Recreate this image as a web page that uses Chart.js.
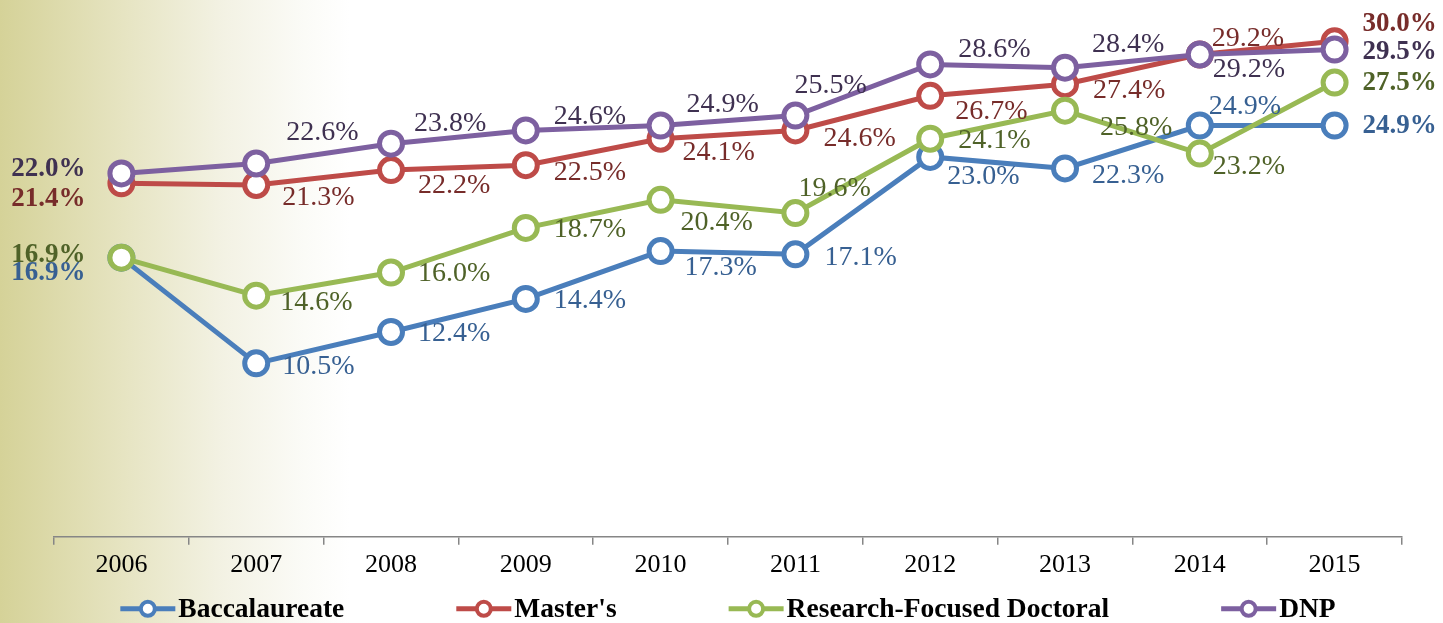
<!DOCTYPE html>
<html>
<head>
<meta charset="utf-8">
<script src="https://cdn.jsdelivr.net/npm/chart.js@4"></script>
<style>
html, body { margin:0; padding:0; }
body {
    width:1443px; height:623px; overflow:hidden;
    background: linear-gradient(to right, #d5d298 0px, #e7e5c4 130px, #f3f2e4 225px, #fbfbf7 305px, #ffffff 350px);
}
#wrap { position:relative; width:1443px; height:623px; }
</style>
</head>
<body>
<div id="wrap"><canvas id="chart"></canvas></div>
<script>
// ===== DATA =====
const years = ["2006","2007","2008","2009","2010","2011","2012","2013","2014","2015"];
const baccalaureate = [16.9, 10.5, 12.4, 14.4, 17.3, 17.1, 23.0, 22.3, 24.9, 24.9];
const masters       = [21.4, 21.3, 22.2, 22.5, 24.1, 24.6, 26.7, 27.4, 29.2, 30.0];
const researchDoc   = [16.9, 14.6, 16.0, 18.7, 20.4, 19.6, 24.1, 25.8, 23.2, 27.5];
const dnp           = [22.0, 22.6, 23.8, 24.6, 24.9, 25.5, 28.6, 28.4, 29.2, 29.5];

// label nudges (dx, dy) from each point, px
const bacOffsets = [[-36,15],[26,3],[27,2],[28,2],[24,17],[29,3],[17,20],[27,7],[9,-19],[28,1]];
const masOffsets = [[-36,16],[26,13],[27,16],[28,7],[22,14],[28,8],[25,16],[28,6],[12,-16],[28,-17]];
const resOffsets = [[-36,-3],[24,7],[27,1],[28,2],[20,23],[3,-24],[28,2],[35,17],[13,13],[28,0]];
const dnpOffsets = [[-36,-4],[30,-31],[23,-20],[28,-14],[26,-21],[-1,-30],[28,-15],[27,-23],[13,15],[28,2]];

const SERIF = '"Liberation Serif", "Times New Roman", serif';

function series(label, data, color, textColor, offsets, order){
    return {
        label, data, order,
        borderColor: color,
        backgroundColor: "#ffffff",
        borderWidth: 5,
        pointRadius: 11.5,
        pointHoverRadius: 11.5,
        pointBorderWidth: 5,
        pointBackgroundColor: "#ffffff",
        pointBorderColor: color,
        tension: 0,
        textColor, offsets
    };
}

// ===== VALUE LABELS =====
const valueLabels = {
    id: "valueLabels",
    afterDatasetsDraw(chart){
        const ctx = chart.ctx;
        ctx.save();
        ctx.textBaseline = "middle";
        chart.data.datasets.forEach((ds,di)=>{
            const meta = chart.getDatasetMeta(di);
            meta.data.forEach((pt,i)=>{
                const [dx,dy] = ds.offsets[i];
                const end = (i===0 || i===ds.data.length-1);
                ctx.font = (end ? "bold 27px " : "28px ") + SERIF;
                ctx.textAlign = i===0 ? "right" : "left";
                ctx.fillStyle = ds.textColor;
                ctx.fillText(ds.data[i].toFixed(1)+"%", pt.x+dx, pt.y+dy);
            });
        });
        ctx.restore();
    }
};

// ===== LEGEND =====
const bottomLegend = {
    id: "bottomLegend",
    afterDraw(chart){
        const ctx = chart.ctx;
        const y = chart.chartArea.bottom + 72;
        const gap = 112;
        ctx.save();
        ctx.font = "bold 27.5px " + SERIF;
        const items = chart.data.datasets.map(ds=>({ds, w: 58 + ctx.measureText(ds.label).width}));
        const total = items.reduce((s,it)=>s+it.w,0) + gap*(items.length-1);
        let x = (chart.chartArea.left + chart.chartArea.right)/2 - total/2;
        items.forEach(it=>{
            ctx.strokeStyle = it.ds.borderColor;
            ctx.lineWidth = 5;
            ctx.beginPath(); ctx.moveTo(x,y); ctx.lineTo(x+55,y); ctx.stroke();
            ctx.beginPath(); ctx.arc(x+27.5,y,7,0,Math.PI*2);
            ctx.fillStyle = "#fff"; ctx.fill();
            ctx.lineWidth = 4; ctx.stroke();
            ctx.fillStyle = "#000";
            ctx.textAlign = "left"; ctx.textBaseline = "middle";
            ctx.fillText(it.ds.label, x+58, y+1);
            x += it.w + gap;
        });
        ctx.restore();
    }
};

// ===== CHART =====
const chart = new Chart(document.getElementById("chart").getContext("2d"), {
    type: "line",
    data: {
        labels: years,
        datasets: [
            series("Baccalaureate", baccalaureate, "#4a7ebb", "#376092", bacOffsets, 3),
            series("Master's", masters, "#be4b48", "#772c2a", masOffsets, 2),
            series("Research-Focused Doctoral", researchDoc, "#98b954", "#4f6228", resOffsets, 1),
            series("DNP", dnp, "#7d60a0", "#3f3151", dnpOffsets, 0)
        ]
    },
    options: {
        responsive: true,
        maintainAspectRatio: false,
        animation: false,
        layout: { padding: { left:54, right:41, top:3, bottom:37 } },
        plugins: { legend: { display:false }, tooltip: { enabled:false } },
        scales: {
            x: {
                offset: true,
                grid: { offset:true, drawOnChartArea:false, tickLength:8, color:"#868686", lineWidth:1.5 },
                border: { color:"#868686", width:1.5 },
                ticks: { color:"#000", padding:5, font:{ family:SERIF, size:26 } }
            },
            y: { display:false, min:0, max:31.5 }
        }
    },
    plugins: [valueLabels, bottomLegend]
});
</script>
</body>
</html>
